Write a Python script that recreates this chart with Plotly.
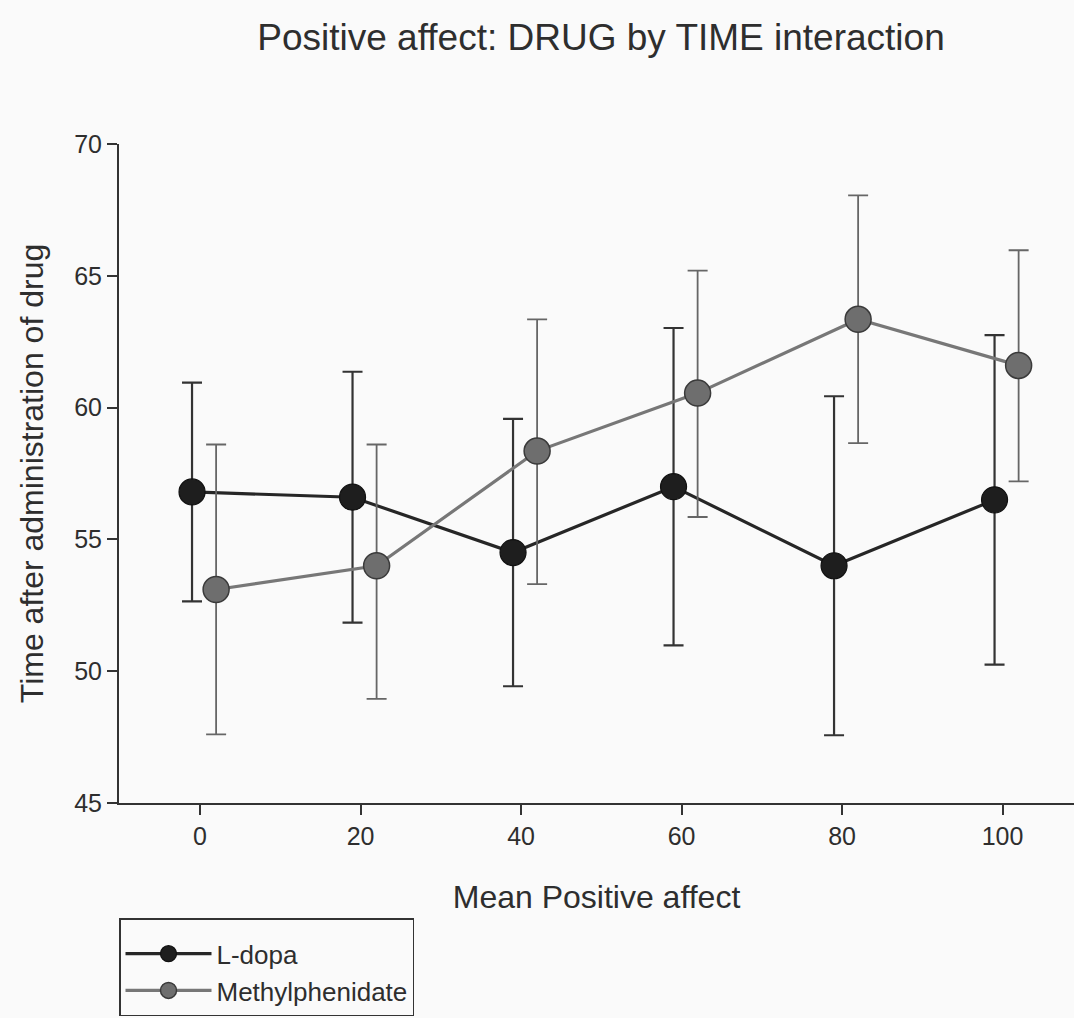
import plotly.graph_objects as go

# ---- data ----
time_points = [0, 20, 40, 60, 80, 100]

ldopa_mean = [56.8, 56.6, 54.5, 57.0, 54.0, 56.5]
ldopa_err = [4.15, 4.76, 5.07, 6.02, 6.43, 6.25]

methyl_mean = [53.1, 54.0, 58.35, 60.55, 63.35, 61.6]
methyl_err_plus = [5.5, 4.6, 5.0, 4.65, 4.7, 4.37]
methyl_err_minus = [5.5, 5.05, 5.05, 4.7, 4.7, 4.4]

series_names = ["L-dopa", "Methylphenidate"]
x_ticks = [0, 20, 40, 60, 80, 100]
y_ticks = [45, 50, 55, 60, 65, 70]

# ---- style ----
FONT = "Liberation Sans, Arial, sans-serif"
TXT = "#2e2e2e"
AX = "#333333"
dodge_ldopa = -1
dodge_methyl = 2

fig = go.Figure()

fig.add_trace(go.Scatter(
    x=[t + dodge_ldopa for t in time_points],
    y=ldopa_mean,
    mode="lines+markers",
    name=series_names[0],
    line=dict(color="#262626", width=3.2),
    marker=dict(size=26, color="#1e1e1e", line=dict(color="#111111", width=1.2)),
    error_y=dict(type="data", array=ldopa_err, visible=True,
                 color="#333333", thickness=2.2, width=10),
))

fig.add_trace(go.Scatter(
    x=[t + dodge_methyl for t in time_points],
    y=methyl_mean,
    mode="lines+markers",
    name=series_names[1],
    line=dict(color="#777777", width=3.2),
    marker=dict(size=26, color="#6e6e6e", line=dict(color="#3a3a3a", width=1.5)),
    error_y=dict(type="data", symmetric=False, array=methyl_err_plus,
                 arrayminus=methyl_err_minus, visible=True,
                 color="#666666", thickness=1.8, width=10),
))

fig.update_layout(
    width=1074, height=1018, autosize=False,
    margin=dict(l=119, r=0, t=144, b=215),
    paper_bgcolor="#fafafa", plot_bgcolor="rgba(0,0,0,0)",
    font=dict(family=FONT, color=TXT, size=25),
    title=dict(text="Positive affect: DRUG by TIME interaction",
               font=dict(size=37, color=TXT, family=FONT),
               x=601 / 1074, xref="container", xanchor="center",
               y=1 - 37 / 1018, yref="container", yanchor="middle"),
    showlegend=True,
    legend=dict(x=0, xanchor="left", y=-0.175, yanchor="top",
                bordercolor=AX, borderwidth=1.5, bgcolor="rgba(0,0,0,0)",
                font=dict(size=26, color=TXT, family=FONT),
                title=dict(text=" ", font=dict(size=8)),
                itemwidth=86, tracegroupgap=0,
                entrywidth=205, entrywidthmode="pixels"),
)

fig.update_xaxes(
    range=[-10.1, 108.9], tickvals=x_ticks, ticktext=[str(v) for v in x_ticks],
    ticks="outside", ticklen=10, tickwidth=2, tickcolor=AX,
    showline=True, linewidth=2, linecolor=AX,
    showgrid=False, zeroline=False,
    tickfont=dict(size=25, color=TXT),
    title=dict(text="Mean Positive affect", font=dict(size=32, color=TXT), standoff=37),
)
fig.update_yaxes(
    range=[45, 70], tickvals=y_ticks, ticktext=[str(v) for v in y_ticks],
    ticks="outside", ticklen=10, tickwidth=2, tickcolor=AX,
    showline=True, linewidth=2, linecolor=AX,
    showgrid=False, zeroline=False,
    tickfont=dict(size=25, color=TXT),
    title=dict(text="Time after administration of drug", font=dict(size=32, color=TXT), standoff=21),
)

fig.write_html("out.html")
